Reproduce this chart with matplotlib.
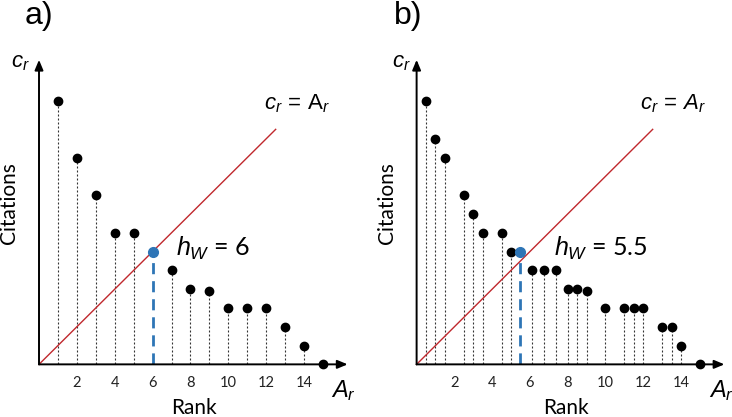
import matplotlib
matplotlib.use("Agg")
import matplotlib.pyplot as plt

plt.rcParams['font.family'] = ['Lato', 'DejaVu Sans']
plt.rcParams['mathtext.fontset'] = 'custom'
plt.rcParams['mathtext.rm'] = 'Liberation Sans'
plt.rcParams['mathtext.it'] = 'Liberation Sans:italic'

# Panel a data
rank_a = [1, 2, 3, 4, 5, 7, 8, 9, 10, 11, 12, 13, 14, 15]
cit_a = [14, 11, 9, 7, 7, 5, 4, 3.9, 3, 3, 3, 2, 1, 0]
hw_a = 6
hw_a_y = 6

# Panel b data
rank_b = [0.5, 1.0, 1.5, 2.5, 3.0, 3.5, 4.5, 5.0, 6.1, 6.75, 7.4, 8.0, 8.5, 9.0,
          10.0, 11.0, 11.5, 12.0, 13.0, 13.5, 14.0, 15.0]
cit_b = [14, 12, 11, 9, 8, 7, 7, 6, 5, 5, 5, 4, 4, 3.9, 3, 3, 3, 3, 2, 2, 1, 0]
hw_b = 5.5
hw_b_y = 6

xticks = [2, 4, 6, 8, 10, 12, 14]
line_end = 12.5

fig = plt.figure(figsize=(7.32, 4.17), dpi=100)

def panel(rect, xlim, ranks, cits, hw, hwy, label, eq, hwtext, hwpos, eqpos, labpos, citpos, crpos, arpos, rankpos):
    ax = fig.add_axes(rect)
    ax.set_xlim(*xlim)
    ax.set_ylim(-2.80, 19.38)
    ax.axis('off')
    # stems
    for x, y in zip(ranks, cits):
        ax.plot([x, x], [0, y], color='#333333', lw=0.8, ls=(0, (1.8, 1.8)), zorder=1)
    ax.plot(ranks, cits, 'o', color='black', ms=6, zorder=4, clip_on=False)
    # red line
    ax.plot([0, line_end], [0, line_end], color='#C0282D', lw=1.0, zorder=2)
    # blue h-index marker
    ax.plot([hw, hw], [0, hwy], color='#2E75B6', lw=2.0, ls=(0, (4, 2.5)), zorder=3)
    ax.plot([hw], [hwy], 'o', color='#2E75B6', ms=7, zorder=5)
    # axes arrows
    ax.annotate('', xy=(16.3, 0), xytext=(0, 0),
                arrowprops=dict(arrowstyle='-|>,head_length=0.6,head_width=0.25', color='black', lw=1.4, shrinkA=0, shrinkB=0))
    ax.annotate('', xy=(0, 16.2), xytext=(0, 0),
                arrowprops=dict(arrowstyle='-|>,head_length=0.6,head_width=0.25', color='black', lw=1.4, shrinkA=0, shrinkB=0))
    for t in xticks:
        ax.text(t, -1.0, str(t), ha='center', va='center', fontsize=10.5, color='#222222')
    ax.text(*labpos, label, transform=fig.transFigure, fontsize=23, ha='center', va='center',
            family='Liberation Sans')
    ax.text(*citpos, 'Citations', transform=fig.transFigure, fontsize=15, rotation=90, ha='center', va='center')
    ax.text(*rankpos, 'Rank', transform=fig.transFigure, fontsize=15, ha='center', va='center')
    ax.text(*crpos, r'$\mathit{c}_{\mathit{r}}$', transform=fig.transFigure, fontsize=16, ha='center', va='center')
    ax.text(*arpos, r'$\mathit{A}_{\mathit{r}}$', transform=fig.transFigure, fontsize=17, ha='center', va='center')
    ax.text(*eqpos, eq, transform=fig.transFigure, fontsize=16, ha='center', va='center')
    ax.text(*hwpos, hwtext, transform=fig.transFigure, fontsize=18, ha='left', va='center')
    return ax

W, H = 732.0, 417.0
def fp(x, y):
    return (x / W, 1 - y / H)

panel([0, 0, 366 / W, 1], (-2.06, 17.27), rank_a, cit_a, hw_a, hw_a_y, 'a)',
      r'$\mathit{c}_{\mathit{r}}\,=\,\mathrm{A}_{\mathit{r}}$', r'$\mathit{h}_{\mathit{W}}$ = 6',
      fp(176, 248), fp(297, 104), fp(39, 16), fp(9, 203), fp(20, 63), fp(343, 391), fp(194, 408))
panel([0.5, 0, 0.5, 1], (-2.68, 16.70), rank_b, cit_b, hw_b, hw_b_y, 'b)',
      r'$\mathit{c}_{\mathit{r}}\,=\,\mathit{A}_{\mathit{r}}$', r'$\mathit{h}_{\mathit{W}}$ = 5.5',
      fp(554, 248), fp(673, 104), fp(408, 16), fp(387, 203), fp(401, 63), fp(721, 391), fp(566, 408))

fig.savefig('out.png', dpi=100)
